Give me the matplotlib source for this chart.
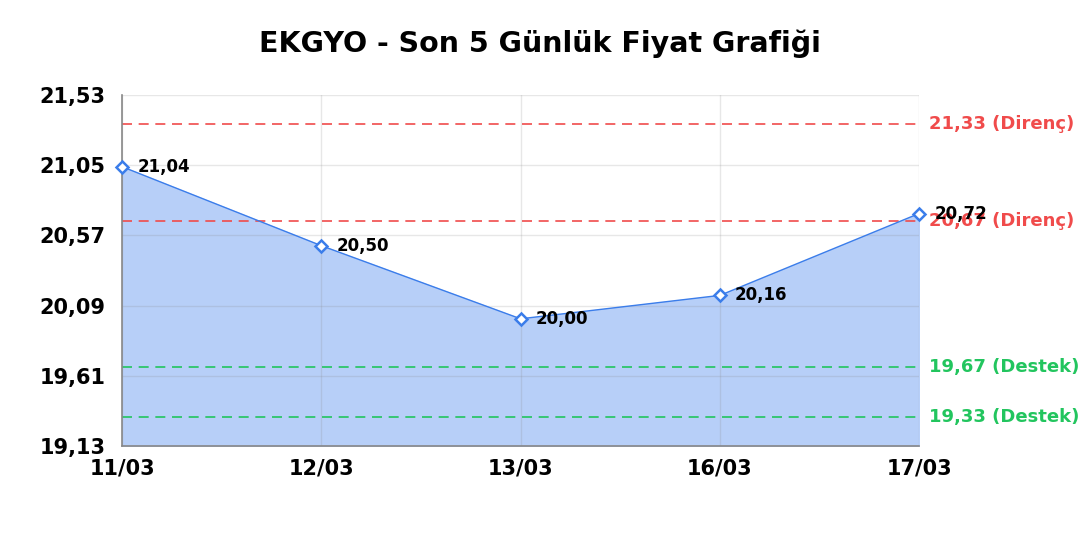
import matplotlib.pyplot as plt

#---------- DATA --------------------------------------------------------------
dates = ['11/03', '12/03', '13/03', '16/03', '17/03']
prices = [21.04, 20.50, 20.00, 20.16, 20.72]
price_labels = ['21,04', '20,50', '20,00', '20,16', '20,72']
resistance = [21.33, 20.67]
support = [19.67, 19.33]
yticks = [19.13, 19.61, 20.09, 20.57, 21.05, 21.53]
#------------------------------------------------------------------------------

red = '#f04b4b'
green = '#22c55e'
blue = '#3b7dea'

fig = plt.figure(figsize=(10.8, 5.4), dpi=100)
ax1 = fig.add_axes([0.113, 0.174, 0.738, 0.650])

x = list(range(len(dates)))

ax1.fill_between(x, prices, yticks[0], color='#b7cff8', zorder=1)
ax1.plot(x, prices, color=blue, linewidth=1, zorder=3)
ax1.plot(x, prices, linestyle='none', marker='D', markersize=6,
         markerfacecolor='white', markeredgecolor=blue, markeredgewidth=1.8,
         zorder=4, clip_on=False)

for xi, p, lab in zip(x, prices, price_labels):
    ax1.annotate(lab, (xi, p), xytext=(11, 0), textcoords='offset points',
                 fontsize=12, fontweight='bold', va='center', ha='left',
                 zorder=5, annotation_clip=False)

for r in resistance:
    ax1.axhline(r, color=red, linestyle=(0, (6, 4)), linewidth=1.2, zorder=2)
    ax1.text(1.012, r, ('%.2f' % r).replace('.', ',') + ' (Direnç)',
             transform=ax1.get_yaxis_transform(), color=red, fontsize=13,
             fontweight='bold', va='center', ha='left')
for s in support:
    ax1.axhline(s, color=green, linestyle=(0, (6, 4)), linewidth=1.2, zorder=2)
    ax1.text(1.012, s, ('%.2f' % s).replace('.', ',') + ' (Destek)',
             transform=ax1.get_yaxis_transform(), color=green, fontsize=13,
             fontweight='bold', va='center', ha='left')

ax1.set_xlim(0, len(dates) - 1)
ax1.set_ylim(yticks[0], yticks[-1])
ax1.set_xticks(x)
ax1.set_xticklabels(dates, fontsize=15, fontweight='bold')
ax1.set_yticks(yticks)
ax1.set_yticklabels([('%.2f' % t).replace('.', ',') for t in yticks],
                    fontsize=15, fontweight='bold')
ax1.tick_params(length=0, pad=12)
ax1.tick_params(axis='x', pad=9)

ax1.grid(color='#888888', alpha=0.2, linewidth=1, zorder=2)
ax1.set_axisbelow(False)
for sp in ['top', 'right']:
    ax1.spines[sp].set_visible(False)
for sp in ['left', 'bottom']:
    ax1.spines[sp].set_color('#888888')
    ax1.spines[sp].set_linewidth(1.2)

fig.suptitle('EKGYO - Son 5 Günlük Fiyat Grafiği', fontsize=20.5,
             fontweight='bold', y=0.945)

fig.savefig('out.png', dpi=100)
